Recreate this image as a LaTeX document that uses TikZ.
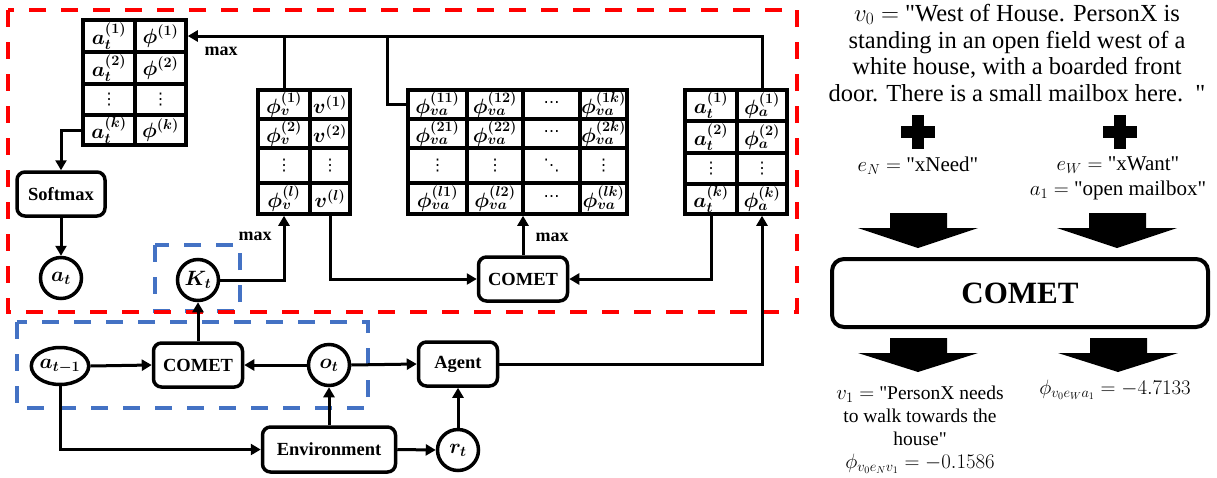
\documentclass[tikz,border=0pt]{standalone}
\usepackage{amsmath}
\usepackage{bm}
\usepackage{fontspec}
\newfontfamily\boxfont{Liberation Serif}
\newfontfamily\notefont{Liberation Serif}
\newfontfamily\dotfont{DejaVu Sans}
\usetikzlibrary{arrows.meta,calc,shapes.geometric}
\definecolor{bluedash}{RGB}{68,114,196}

% dot glyphs for the elided rows and columns
\newcommand{\vd}{{\dotfont\fontsize{16}{16}\selectfont ⋮}}
\newcommand{\hd}{{\dotfont\fontsize{16}{16}\selectfont ⋯}}
\newcommand{\dd}{{\dotfont\fontsize{16}{16}\selectfont ⋱}}

\tikzset{
  wire/.style={line width=3pt},
  flow/.style={line width=3pt, -{Triangle[length=10pt,width=11pt]}},
  cell/.style={draw, line width=3.5pt, inner sep=0pt,
    label={[font=\fontsize{21}{21}\selectfont, inner sep=0pt]center:#1}},
  stepbox/.style={draw, line width=3.5pt, rounded corners=8pt, inner sep=0pt,
    font=\boxfont\bfseries\fontsize{18.5}{18.5}\selectfont},
  state/.style={draw, circle, line width=3.5pt, minimum size=41pt, inner sep=0pt,
    font=\fontsize{21}{21}\selectfont},
  redframe/.style={draw=red, line width=4pt, dash pattern=on 17pt off 15pt},
  blueframe/.style={draw=bluedash, line width=3.5pt, dash pattern=on 17pt off 15pt},
  lbl/.style={font=\boxfont\bfseries\fontsize{18}{18}\selectfont, inner sep=0pt},
  blockarrow/.style={fill=black},
}

\begin{document}
\begin{tikzpicture}[x=1pt,y=-1pt]
\useasboundingbox (0,0) rectangle (1217,477);

% ---------- dashed groupings ----------
\draw[blueframe] (155,245) rectangle (240,311);
\draw[blueframe] (17,322) rectangle (368,408);
\draw[redframe] (8,10) rectangle (797,312);

% ---------- table of actions and scores ----------
\node[cell={$\bm{a_t^{(1)}}$}, minimum width=52pt, minimum height=32pt] (t1a1) at (109,36) {};
\node[cell={$\bm{\phi^{(1)}}$}, minimum width=51pt, minimum height=32pt] (t1p1) at (160.5,36) {};
\node[cell={$\bm{a_t^{(2)}}$}, minimum width=52pt, minimum height=32pt] (t1a2) at (109,68) {};
\node[cell={$\bm{\phi^{(2)}}$}, minimum width=51pt, minimum height=32pt] (t1p2) at (160.5,68) {};
\node[cell={\vd}, minimum width=52pt, minimum height=31pt] (t1a3) at (109,99.5) {};
\node[cell={\vd}, minimum width=51pt, minimum height=31pt] (t1p3) at (160.5,99.5) {};
\node[cell={$\bm{a_t^{(k)}}$}, minimum width=52pt, minimum height=30pt] (t1ak) at (109,130) {};
\node[cell={$\bm{\phi^{(k)}}$}, minimum width=51pt, minimum height=30pt] (t1pk) at (160.5,130) {};

% ---------- table of verb scores ----------
\node[cell={$\bm{\phi_v^{(1)}}$}, minimum width=52pt, minimum height=29pt] (t2p1) at (284,104.5) {};
\node[cell={$\bm{v^{(1)}}$}, minimum width=40pt, minimum height=29pt] (t2v1) at (330,104.5) {};
\node[cell={$\bm{\phi_v^{(2)}}$}, minimum width=52pt, minimum height=29pt] (t2p2) at (284,133.5) {};
\node[cell={$\bm{v^{(2)}}$}, minimum width=40pt, minimum height=29pt] (t2v2) at (330,133.5) {};
\node[cell={\vd}, minimum width=52pt, minimum height=35pt] (t2p3) at (284,165.5) {};
\node[cell={\vd}, minimum width=40pt, minimum height=35pt] (t2v3) at (330,165.5) {};
\node[cell={$\bm{\phi_v^{(l)}}$}, minimum width=52pt, minimum height=31pt] (t2pl) at (284,198.5) {};
\node[cell={$\bm{v^{(l)}}$}, minimum width=40pt, minimum height=31pt] (t2vl) at (330,198.5) {};

% ---------- table of verb-action scores ----------
\node[cell={$\bm{\phi_{va}^{(11)}}$}, minimum width=59pt, minimum height=29pt] (t3r1c1) at (437.5,104.5) {};
\node[cell={$\bm{\phi_{va}^{(12)}}$}, minimum width=56pt, minimum height=29pt] (t3r1c2) at (495,104.5) {};
\node[cell={\hd}, minimum width=57pt, minimum height=29pt] (t3r1c3) at (551.5,104.5) {};
\node[cell={$\bm{\phi_{va}^{(1k)}}$}, minimum width=47pt, minimum height=29pt] (t3r1c4) at (603.5,104.5) {};
\node[cell={$\bm{\phi_{va}^{(21)}}$}, minimum width=59pt, minimum height=29pt] (t3r2c1) at (437.5,133.5) {};
\node[cell={$\bm{\phi_{va}^{(22)}}$}, minimum width=56pt, minimum height=29pt] (t3r2c2) at (495,133.5) {};
\node[cell={\hd}, minimum width=57pt, minimum height=29pt] (t3r2c3) at (551.5,133.5) {};
\node[cell={$\bm{\phi_{va}^{(2k)}}$}, minimum width=47pt, minimum height=29pt] (t3r2c4) at (603.5,133.5) {};
\node[cell={\vd}, minimum width=59pt, minimum height=35pt] (t3r3c1) at (437.5,165.5) {};
\node[cell={\vd}, minimum width=56pt, minimum height=35pt] (t3r3c2) at (495,165.5) {};
\node[cell={\dd}, minimum width=57pt, minimum height=35pt] (t3r3c3) at (551.5,165.5) {};
\node[cell={\vd}, minimum width=47pt, minimum height=35pt] (t3r3c4) at (603.5,165.5) {};
\node[cell={$\bm{\phi_{va}^{(l1)}}$}, minimum width=59pt, minimum height=31pt] (t3r4c1) at (437.5,198.5) {};
\node[cell={$\bm{\phi_{va}^{(l2)}}$}, minimum width=56pt, minimum height=31pt] (t3r4c2) at (495,198.5) {};
\node[cell={\hd}, minimum width=57pt, minimum height=31pt] (t3r4c3) at (551.5,198.5) {};
\node[cell={$\bm{\phi_{va}^{(lk)}}$}, minimum width=47pt, minimum height=31pt] (t3r4c4) at (603.5,198.5) {};

% ---------- table of action scores ----------
\node[cell={$\bm{a_t^{(1)}}$}, minimum width=52pt, minimum height=31pt] (t4a1) at (711,105.5) {};
\node[cell={$\bm{\phi_a^{(1)}}$}, minimum width=50pt, minimum height=31pt] (t4p1) at (762,105.5) {};
\node[cell={$\bm{a_t^{(2)}}$}, minimum width=52pt, minimum height=32pt] (t4a2) at (711,137) {};
\node[cell={$\bm{\phi_a^{(2)}}$}, minimum width=50pt, minimum height=32pt] (t4p2) at (762,137) {};
\node[cell={\vd}, minimum width=52pt, minimum height=31pt] (t4a3) at (711,168.5) {};
\node[cell={\vd}, minimum width=50pt, minimum height=31pt] (t4p3) at (762,168.5) {};
\node[cell={$\bm{a_t^{(k)}}$}, minimum width=52pt, minimum height=30pt] (t4ak) at (711,199) {};
\node[cell={$\bm{\phi_a^{(k)}}$}, minimum width=50pt, minimum height=30pt] (t4pk) at (762,199) {};

% ---------- processing boxes and states ----------
\node[stepbox, minimum width=88pt, minimum height=44pt] (softmax) at (61,194) {Softmax};
\node[state] (at) at (61,278) {$\bm{a_t}$};
\node[state] (kt) at (198,280) {$\bm{K_t}$};
\node[stepbox, minimum width=89pt, minimum height=44pt] (comet2) at (523,279) {COMET};
\node[stepbox, minimum width=89pt, minimum height=44pt] (comet1) at (198,365) {COMET};
\node[draw, ellipse, line width=3.5pt, minimum width=56pt, minimum height=37pt, inner sep=0pt,
      font=\fontsize{20}{20}\selectfont] (atm1) at (60,366) {$\bm{a_{t-1}}$};
\node[state] (ot) at (329,365) {$\bm{o_t}$};
\node[stepbox, minimum width=79pt, minimum height=44pt] (agent) at (458,364) {Agent};
\node[stepbox, minimum width=133pt, minimum height=45pt] (env) at (329,449.5) {Environment};
\node[state] (rt) at (458,450) {$\bm{r_t}$};

% ---------- connectors ----------
\coordinate (bus3) at (387,36);
\draw[flow] (t4p1.north) |- (t1p1.east);
\draw[wire] (t2p1.north) -- (t2p1.north |- t1p1.east);
\draw[wire] (t3r1c1.west) -| (bus3);
\draw[flow] (t1ak.west) -| (softmax.north);
\draw[flow] (softmax.south) -- (at.north);
\draw[flow] (kt.east) -| (t2pl.south);
\draw[flow] (t2vl.south) |- (comet2.west);
\draw[flow] (comet2.north) -- (comet2.north |- t3r4c2.south);
\draw[flow] (t4ak.south) |- (comet2.east);
\draw[flow] (agent.east) -| (t4pk.south);
\draw[flow] (comet1.north) -- (kt.south);
\draw[flow] (atm1.east) -- (comet1.west);
\draw[flow] (ot.west) -- (comet1.east);
\draw[flow] (ot.east) -- (agent.west);
\draw[flow] (atm1.south) |- (env.west);
\draw[flow] (env.north) -- (ot.south);
\draw[flow] (env.east) -- (rt.west);
\draw[flow] (rt.north) -- (agent.south);

\node[lbl] (max1) at (221,51) {max};
\node[lbl] (max2) at (255,236) {max};
\node[lbl] (max3) at (552,237) {max};

% ---------- worked example ----------
\node[align=center, inner sep=0pt, font=\notefont\fontsize{24.5}{26.8}\selectfont] (v0) at (1017,53)
  {$v_0 =$ "West of House. PersonX is\\ standing in an open field west of a\\
   white house, with a boarded front\\ door. There is a small mailbox here.\ \ "};

\fill (912,115) rectangle (924,149);
\fill (901,126) rectangle (935,138);
\fill (1114,115) rectangle (1126,149);
\fill (1103,126) rectangle (1137,138);

\node[inner sep=0pt, font=\notefont\fontsize{21}{25}\selectfont] (eN) at (918,166) {$e_N =$ "xNeed"};
\node[align=center, inner sep=0pt, font=\notefont\fontsize{21}{25}\selectfont] (eW) at (1118,178)
  {$e_W =$ "xWant"\\ $a_1 =$ "open mailbox"};

\fill[blockarrow] (890,213) -- (947,213) -- (947,228) -- (978,228) -- (918,248)
  -- (858,228) -- (890,228) -- cycle;
\fill[blockarrow] (1089,213) -- (1146,213) -- (1146,228) -- (1177,228) -- (1117,248)
  -- (1057,228) -- (1089,228) -- cycle;

\node[draw, line width=4pt, rounded corners=12pt, minimum width=376pt, minimum height=68pt,
      font=\boxfont\bfseries\fontsize{31}{31}\selectfont] (cometbig) at (1020,293) {COMET};

\fill[blockarrow] (890,338) -- (947,338) -- (947,353) -- (978,353) -- (918,372)
  -- (858,353) -- (890,353) -- cycle;
\fill[blockarrow] (1090,338) -- (1147,338) -- (1147,353) -- (1178,353) -- (1118,372)
  -- (1058,353) -- (1090,353) -- cycle;

\node[align=center, inner sep=0pt, font=\notefont\fontsize{19.5}{23}\selectfont] (v1) at (920,430)
  {$v_1 =$ "PersonX needs\\ to walk towards the\\ house"\\ $\phi_{v_0 e_N v_1} = -0.1586$};
\node[inner sep=0pt, font=\notefont\fontsize{19.5}{23}\selectfont] (phiW) at (1115,390)
  {$\phi_{v_0 e_W a_1} = -4.7133$};
\end{tikzpicture}
\end{document}
